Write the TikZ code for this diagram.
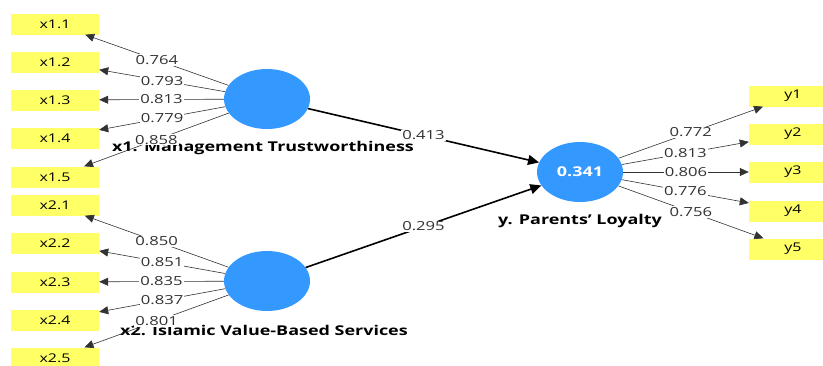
\documentclass[tikz,border=0pt]{standalone}
\usepackage{fontspec}
\setmainfont[FakeStretch=1.33]{Open Sans}
\usetikzlibrary{shapes.geometric,arrows.meta}
\definecolor{lvblue}{RGB}{51,153,255}
\definecolor{indyellow}{RGB}{255,255,102}
\definecolor{loadgray}{RGB}{50,50,50}
\begin{document}
\begin{tikzpicture}[x=1pt,y=-1pt,
  latent/.style={ellipse,fill=lvblue,minimum width=86pt,minimum height=60pt,inner sep=0pt,
    font=\fontsize{13.5}{16}\selectfont\bfseries,text=white},
  indicator/.style={fill=indyellow,minimum width=88pt,minimum height=21pt,inner sep=0pt,
    font=\fontsize{12}{14}\selectfont},
  lvname/.style={font=\fontsize{13.5}{16}\selectfont\bfseries,text=black},
  loading/.style={draw=loadgray,line width=0.6pt,-{Triangle[length=9pt,width=8pt]}},
  path/.style={draw=black,line width=1.6pt,-{Triangle[length=11pt,width=10pt]}},
  coef/.style={fill=white,inner sep=1pt,text=loadgray,font=\fontsize{12.5}{14}\selectfont}]
\useasboundingbox (0,0) rectangle (823,365);

% latent variables
\node[latent] (x1) at (267,99) {};
\node[latent] (x2) at (267,281) {};
\node[latent] (y) at (580,172) {0.341};

% latent variable names
\node[lvname] at (263,148) {x1. Management Trustworthiness};
\node[lvname] at (264,330) {x2. Islamic Value-Based Services};
\node[lvname] at (580,221) {y. Parents’ Loyalty};

% indicators of x1
\foreach \i/\yy in {1/24,2/62,3/100,4/138,5/177}
  \node[indicator] (x1\i) at (55,\yy) {x1.\i};
% indicators of x2
\foreach \i/\yy in {1/205,2/243,3/282,4/320,5/358}
  \node[indicator] (x2\i) at (55,\yy) {x2.\i};
% indicators of y
\foreach \i/\yy in {1/96,2/134,3/172,4/211,5/249}
  \node[indicator] (y\i) at (793,\yy) {y\i};

% outer loadings
\foreach \i/\v in {1/0.764,2/0.793,3/0.813,4/0.779,5/0.858}
  \draw[loading] (x1) -- node[coef] {\v} (x1\i);
\foreach \i/\v in {1/0.850,2/0.851,3/0.835,4/0.837,5/0.801}
  \draw[loading] (x2) -- node[coef] {\v} (x2\i);
\foreach \i/\v in {1/0.772,2/0.813,3/0.806,4/0.776,5/0.756}
  \draw[loading] (y) -- node[coef] {\v} (y\i);

% path coefficients
\draw[path] (x1) -- node[coef] {0.413} (y);
\draw[path] (x2) -- node[coef] {0.295} (y);
\end{tikzpicture}
\end{document}
